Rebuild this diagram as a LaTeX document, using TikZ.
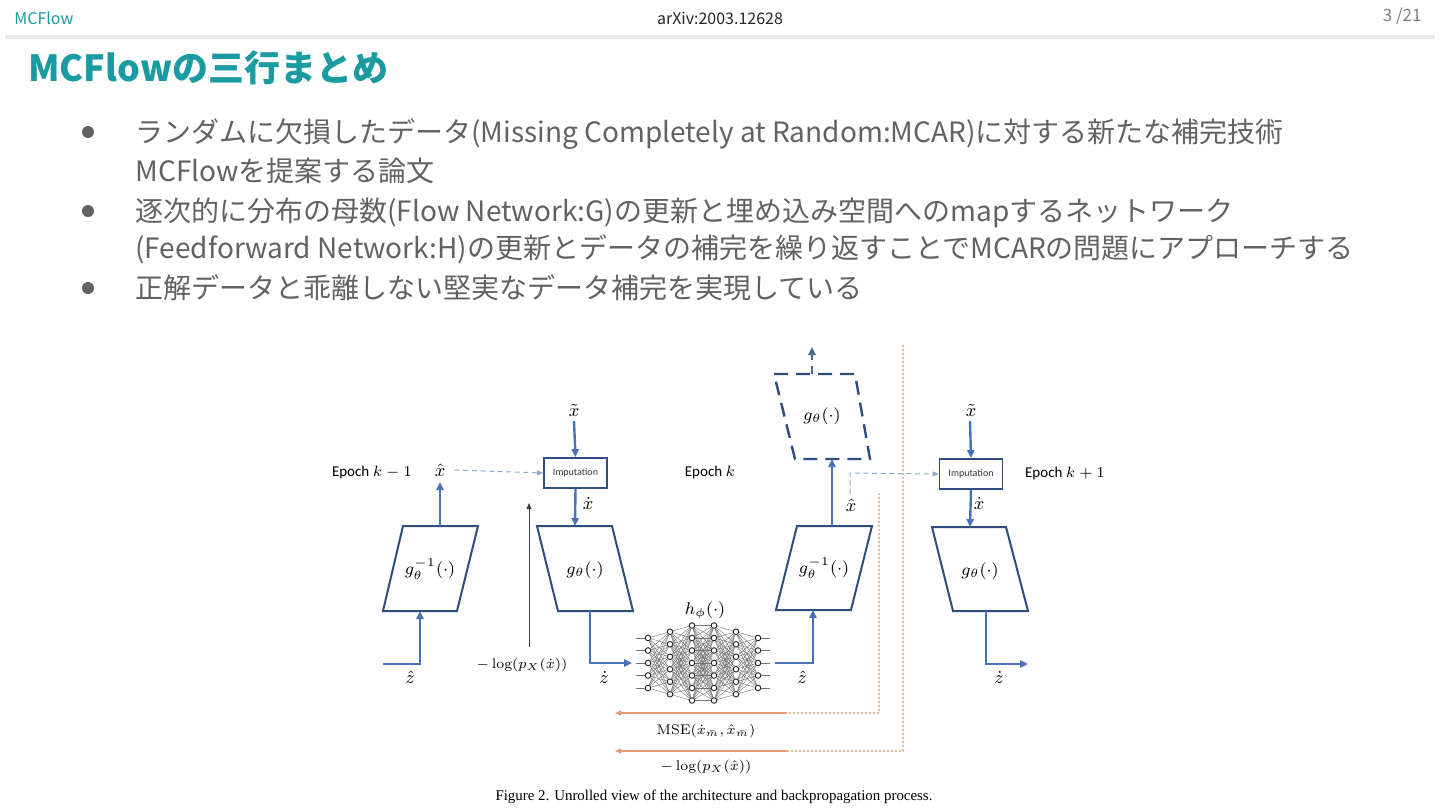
\RequirePackage{fix-cm}
\documentclass[tikz,border=0pt]{standalone}
\usepackage{fontspec}
\usetikzlibrary{arrows.meta}
\newfontfamily\jpfont{Noto Sans CJK JP}
\newfontfamily\epochfont{Carlito}
\newfontfamily\capfont{Liberation Serif}
\definecolor{teal1}{HTML}{1A9BA1}
\definecolor{txtgray}{HTML}{626262}
\definecolor{fblue}{HTML}{4A72B8}
\definecolor{navy}{HTML}{2F4E7E}
\definecolor{lblue}{HTML}{8FA8D0}
\definecolor{orng}{HTML}{E49A72}
\definecolor{orngdot}{HTML}{E8BCA0}
\definecolor{barcol}{HTML}{E8E8E8}
\tikzset{
  barrow/.style={draw=fblue, line width=1.2pt, line join=miter, -{Triangle[length=4pt,width=3.6pt]}},
  pgram/.style={draw=navy, line width=1pt, line join=miter},
  pgramdash/.style={draw=navy, line width=1.2pt, dash pattern=on 7pt off 4pt},
  impbox/.style={draw=navy, line width=0.9pt, minimum width=31.5pt, minimum height=15pt, inner sep=0pt, font=\epochfont\fontsize{5}{6}\selectfont, text=black!80},
  mlabel/.style={inner sep=0.5pt, font=\fontsize{9}{11}\selectfont},
  flabel/.style={inner sep=0.5pt, font=\fontsize{7}{9}\selectfont},
  plabel/.style={inner sep=0pt, font=\fontsize{8.5}{10}\selectfont},
  eplabel/.style={inner sep=0pt, font=\epochfont\fontsize{7.5}{9}\selectfont},
  dasharrow/.style={draw=lblue, line width=0.5pt, dash pattern=on 2.5pt off 1.8pt, -{Triangle[length=3pt,width=2.5pt]}},
  thinarrow/.style={draw=black!75, line width=0.45pt, -{Triangle[length=3pt,width=2.5pt]}},
  oarrow/.style={draw=orng, line width=0.6pt, -{Triangle[length=3pt,width=2.5pt]}},
  odot/.style={draw=orngdot, line width=0.6pt, dash pattern=on 1pt off 1pt},
  neuron/.style={circle, draw=black!85, line width=0.45pt, fill=white, minimum size=2.8pt, inner sep=0pt},
  nnline/.style={draw=black!55, line width=0.2pt},
  bodytext/.style={anchor=base west, inner sep=0pt, text=txtgray, font=\jpfont\fontsize{14}{17}\selectfont},
}
\begin{document}
\begin{tikzpicture}[x=0.5pt,y=-0.5pt]
\useasboundingbox (0,0) rectangle (1440,810);
\fill[white] (0,0) rectangle (1440,810);
% header
\node[anchor=west, inner sep=0pt, text=teal1, font=\jpfont\fontsize{8}{10}\selectfont] (hdl) at (14,18) {MCFlow};
\node[inner sep=0pt, text=black!85, font=\jpfont\fontsize{8}{10}\selectfont] (hdc) at (720,18) {arXiv:2003.12628};
\node[anchor=east, inner sep=0pt, text=black!50, font=\jpfont\fontsize{8.5}{10}\selectfont] (hdr) at (1422,16) {3 /21};
\fill[barcol] (5,35) rectangle (1435,39);
% title
\node[anchor=base west, inner sep=0pt, text=teal1, font=\jpfont\bfseries\fontsize{18}{22}\selectfont] (title) at (28,81) {MCFlowの三行まとめ};
% bullets
\fill[txtgray] (88,132) circle[radius=6];
\fill[txtgray] (88,211) circle[radius=6];
\fill[txtgray] (88,288) circle[radius=6];
\node[bodytext] (l1) at (135,142) {ランダムに欠損したデータ(Missing Completely at Random:MCAR)に対する新たな補完技術};
\node[bodytext] (l2) at (135,181) {MCFlowを提案する論文};
\node[bodytext] (l3) at (135,221) {逐次的に分布の母数(Flow Network:G)の更新と埋め込み空間へのmapするネットワーク};
\node[bodytext] (l4) at (135,258) {(Feedforward Network:H)の更新とデータの補完を繰り返すことでMCARの問題にアプローチする};
\node[bodytext] (l5) at (135,298) {正解データと乖離しない堅実なデータ補完を実現している};

% ===== figure =====
% parallelograms
\draw[pgram] (403,526) -- (478,526) -- (457,611) -- (383,611) -- cycle;
\node[plabel] (p1) at (430,569) {$g_\theta^{-1}(\cdot)$};
\draw[pgram] (537,526) -- (612,526) -- (633,611) -- (558,611) -- cycle;
\node[plabel] (p2) at (585,570) {$g_\theta(\cdot)$};
\draw[pgram] (797,526) -- (872,526) -- (851,610) -- (776,610) -- cycle;
\node[plabel] (p3) at (824,568) {$g_\theta^{-1}(\cdot)$};
\draw[pgramdash] (774,374) -- (855,374) -- (870,459) -- (795,459) -- cycle;
\node[plabel] (p4) at (822,416) {$g_\theta(\cdot)$};
\draw[pgram] (932,527) -- (1006,527) -- (1028,611) -- (953,611) -- cycle;
\node[plabel] (p5) at (980,571) {$g_\theta(\cdot)$};
% coordinates on parallelogram edges
\coordinate (p1b) at (420,611);
\coordinate (p1t) at (440,526);
\coordinate (p2t) at (575,526);
\coordinate (p2b) at (590,611);
\coordinate (p3b) at (813,610);
\coordinate (p3t) at (832,526);
\coordinate (p4b) at (832,459);
\coordinate (p4t) at (812,374);
\coordinate (p5t) at (970,527);
\coordinate (p5b) at (986,611);

% imputation boxes
\node[impbox] (imp1) at (575.5,473) {Imputation};
\node[impbox] (imp2) at (971,474) {Imputation};

% labels
\node[eplabel] (ep1) at (372,472) {Epoch $k-1$};
\node[eplabel] (ep2) at (710,472) {Epoch $k$};
\node[eplabel] (ep3) at (1065,473) {Epoch $k+1$};
\node[mlabel] (xh1) at (440,470) {$\hat{x}$};
\node[mlabel] (xt1) at (574,410) {$\tilde{x}$};
\node[mlabel] (xd1) at (588,503) {$\dot{x}$};
\node[mlabel] (zh1) at (410,677) {$\hat{z}$};
\node[mlabel] (zd1) at (604,677) {$\dot{z}$};
\node[mlabel] (zh2) at (802,677) {$\hat{z}$};
\node[mlabel] (xh2) at (851,505) {$\hat{x}$};
\node[mlabel] (xt2) at (971,410) {$\tilde{x}$};
\node[mlabel] (xd2) at (979,503) {$\dot{x}$};
\node[mlabel] (zd2) at (999,677) {$\dot{z}$};
\node[flabel] (nll1) at (522,665) {$-\log(p_X(\dot{x}))$};
\node[plabel] (hphi) at (705,610) {$h_\phi(\cdot)$};
\node[flabel] (mse) at (706,731) {$\mathrm{MSE}(\dot{x}_{\bar m},\hat{x}_{\bar m})$};
\node[flabel] (nll2) at (706,767) {$-\log(p_X(\hat{x}))$};

% neural network
\foreach \c/\x/\n in {1/648/5,2/670/6,3/692/7,4/714/7,5/736/6,6/758/5}{
  \foreach \i in {1,...,\n}{
    \node[neuron] (n\c-\i) at (\x,{663+(\i-(\n+1)/2)*12.5}) {};
  }
}
\foreach \a/\na/\b/\nb in {1/5/2/6,2/6/3/7,3/7/4/7,4/7/5/6,5/6/6/5}{
  \foreach \i in {1,...,\na}{
    \foreach \j in {1,...,\nb}{
      \draw[nnline] (n\a-\i) -- (n\b-\j);
    }
  }
}
\foreach \i in {1,...,5}{
  \draw[nnline] (n1-\i.west) -- ++(-9,0);
  \draw[nnline] (n6-\i.east) -- ++(9,0);
}
\coordinate (nnin) at (632,663);
\coordinate (nnout) at (775,663);

% blue connectors
\coordinate (zin) at (383,664);
\draw[barrow] (zin) -- (420,664) -- (p1b);
\draw[barrow] (p1t) -- (440,482);
\draw[barrow] (574,421) -- (imp1.north);
\draw[barrow] (imp1.south) -- (p2t);
\draw[barrow] (p2b) -- (590,663) -- (nnin);
\draw[barrow] (nnout) -- (813,663) -- (p3b);
\draw[barrow] (p3t) -- (p4b);
\draw[barrow] (970,421) -- (imp2.north);
\draw[barrow] (imp2.south) -- (p5t);
\coordinate (zout) at (1028,664);
\draw[barrow] (p5b) -- (986,664) -- (zout);
% dashed up arrow
\draw[draw=navy!85, line width=1.2pt, dash pattern=on 4pt off 3pt, -{Triangle[length=4pt,width=3.6pt]}] (p4t) -- (812,347);
% light blue dashed
\draw[dasharrow] (xh1.east) ++(8,0) -- (imp1.west);
\draw[dasharrow] (850,494) -- (850,473) -- (imp2.west);
% black arrow
\draw[thinarrow] (529,647) -- (529,503);

% orange backprop
\draw[odot] (903,345) -- (903,751) -- (787,751);
\draw[odot] (879,493) -- (879,713) -- (787,713);
\draw[oarrow] (787,713) -- (615,713);
\draw[oarrow] (787,751) -- (615,751);

% caption
\node[inner sep=0pt, font=\capfont\fontsize{7.45}{9}\selectfont] (cap) at (714,797) {Figure 2. Unrolled view of the architecture and backpropagation process.};
\end{tikzpicture}
\end{document}
